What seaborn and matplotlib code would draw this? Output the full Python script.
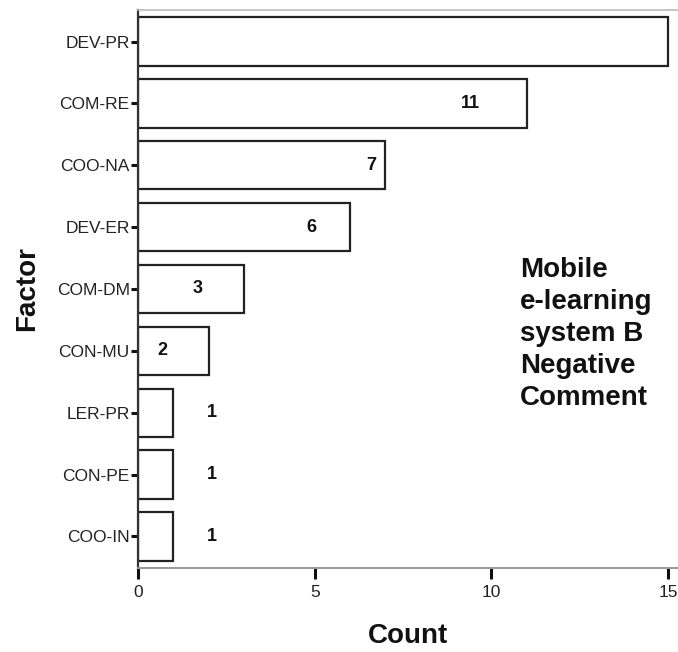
import matplotlib
matplotlib.use("Agg")
import matplotlib.pyplot as plt
import seaborn as sns
import pandas as pd

factors = ["DEV-PR", "COM-RE", "COO-NA", "DEV-ER", "COM-DM", "CON-MU", "LER-PR", "CON-PE", "COO-IN"]
counts = [15, 11, 7, 6, 3, 2, 1, 1, 1]
value_labels = ["", "11", "7", "6", "3", "2", "1", "1", "1"]
x_ticks = [0, 5, 10, 15]
title_text = "Mobile\ne-learning\nsystem B\nNegative\nComment"

# layout: horizontal placement of value labels (data units)
label_x = [0, 9.4, 6.6, 4.9, 1.7, 0.7, 2.1, 2.1, 2.1]

sns.set_theme(style="white")
plt.rcParams["font.family"] = ["Liberation Sans", "DejaVu Sans"]

df = pd.DataFrame({"Factor": factors, "Count": counts})

fig = plt.figure(figsize=(6.78, 6.52), dpi=100)
ax = fig.add_axes([0.2035, 0.1288, 0.7965, 0.8559])

sns.barplot(data=df, x="Count", y="Factor", orient="h", order=factors,
            color="white", edgecolor="#222222", linewidth=1.6, width=0.78,
            saturation=1, ax=ax)
for p in ax.patches:
    p.set_facecolor("white")

for i, (lx, t) in enumerate(zip(label_x, value_labels)):
    if t:
        ax.text(lx, i, t, ha="center", va="center", fontsize=13,
                fontweight="bold", color="#111111")

ax.set_xlim(0, 15.28)
ax.set_ylim(8.51, -0.51)
ax.set_xticks(x_ticks)
ax.set_xticklabels([str(v) for v in x_ticks])

ax.set_xlabel("Count", fontsize=20, fontweight="bold", labelpad=17, color="#111111")
ax.set_ylabel("Factor", fontsize=20, fontweight="bold", labelpad=12, color="#111111")

ax.tick_params(axis="y", which="major", direction="out", length=5, width=2.2,
               color="#111111", labelsize=12.5, pad=1, left=True)
ax.tick_params(axis="x", which="major", direction="out", length=8, width=2.2,
               color="#111111", labelsize=12.5, pad=4, bottom=True)
for lbl in ax.get_yticklabels() + ax.get_xticklabels():
    lbl.set_color("#222222")

ax.spines["left"].set_color("#333333")
ax.spines["left"].set_linewidth(1.6)
ax.spines["bottom"].set_color("#999999")
ax.spines["bottom"].set_linewidth(1.4)
ax.spines["top"].set_visible(True)
ax.spines["top"].set_color("#bbbbbb")
ax.spines["top"].set_linewidth(1.2)
ax.spines["right"].set_visible(False)

ax.text(0.707, 0.557, title_text, transform=ax.transAxes, ha="left", va="top",
        fontsize=20, fontweight="bold", color="#111111", linespacing=1.3)

fig.savefig("out.png", dpi=100)
